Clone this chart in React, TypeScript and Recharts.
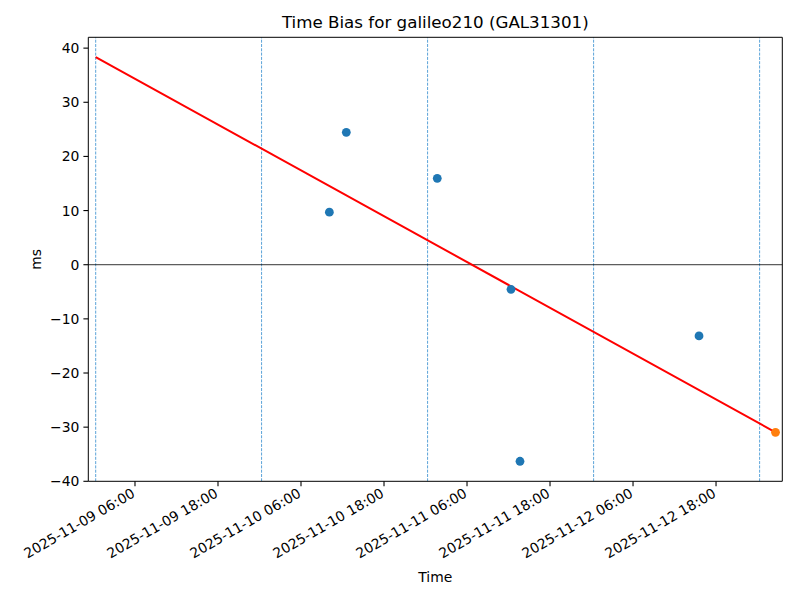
import {
  ComposedChart,
  Line,
  Scatter,
  XAxis,
  YAxis,
  ReferenceLine,
} from "recharts";

// time values are hours since 2025-11-09 00:00
const xTicks = [6, 18, 30, 42, 54, 66, 78, 90];
const xTickLabels = [
  "2025-11-09 06:00",
  "2025-11-09 18:00",
  "2025-11-10 06:00",
  "2025-11-10 18:00",
  "2025-11-11 06:00",
  "2025-11-11 18:00",
  "2025-11-12 06:00",
  "2025-11-12 18:00",
];
const yTicks = [-40, -30, -20, -10, 0, 10, 20, 30, 40];

const biasTimes = [34.1, 36.55, 49.7, 60.36, 61.66, 87.54];
const biasValues = [9.7, 24.45, 15.95, -4.55, -36.3, -13.15];
const latestTime = [98.6];
const latestValue = [-30.95];
const fitTimes = [0.32, 98.6];
const fitValues = [38.35, -30.95];
const dayMarks = [0.32, 24.3, 48.3, 72.3, 96.3];

const X_DOMAIN = [-0.75, 99.58];
const Y_DOMAIN = [-40, 42];

const bias = biasTimes.map((t, i) => ({ t, v: biasValues[i] }));
const latest = latestTime.map((t, i) => ({ t, v: latestValue[i] }));
const fit = fitTimes.map((t, i) => ({ t, v: fitValues[i] }));
const dayLines = dayMarks.map((t) => [
  { t, v: Y_DOMAIN[0] },
  { t, v: Y_DOMAIN[1] },
]);

const FONT = "DejaVu Sans, sans-serif";

const XTick = (props: any) => {
  const { x, y, payload } = props;
  const i = xTicks.indexOf(payload.value);
  const ax = x + 1;
  const ay = y + 8;
  return (
    <text
      x={ax}
      y={ay}
      textAnchor="end"
      transform={`rotate(-30 ${ax} ${ay})`}
      fontSize={13.9}
      fontFamily={FONT}
      fill="#000"
    >
      {xTickLabels[i]}
    </text>
  );
};

const YTick = (props: any) => {
  const { x, y, payload } = props;
  const v = payload.value;
  const label = v < 0 ? `\u2212${Math.abs(v)}` : `${v}`;
  return (
    <text x={x} y={y} dy="0.36em" textAnchor="end" fontSize={13.9} fontFamily={FONT} fill="#000">
      {label}
    </text>
  );
};

const dot = (color: string) => (p: any) =>
  <circle cx={p.cx} cy={p.cy} r={4.4} fill={color} />;

export default function App() {
  return (
    <div style={{ position: "absolute", left: 0, top: 0, width: 800, height: 600, background: "#fff" }}>
      <ComposedChart
        width={800}
        height={600}
        margin={{ top: 37.3, right: 17.7, bottom: 0, left: 0 }}
      >
        <XAxis
          type="number"
          dataKey="t"
          domain={X_DOMAIN}
          allowDataOverflow
          ticks={xTicks}
          interval={0}
          height={118.7}
          tick={<XTick />}
          tickSize={4.9}
          tickMargin={2}
          axisLine={{ stroke: "#000", strokeWidth: 1 }}
          tickLine={{ stroke: "#000", strokeWidth: 1.1 }}
        />
        <YAxis
          type="number"
          dataKey="v"
          domain={Y_DOMAIN}
          allowDataOverflow
          ticks={yTicks}
          interval={0}
          width={88.3}
          tick={<YTick />}
          tickSize={4.9}
          tickMargin={4}
          axisLine={{ stroke: "#000", strokeWidth: 1 }}
          tickLine={{ stroke: "#000", strokeWidth: 1.1 }}
        />
        {dayLines.map((seg, i) => (
          <Line
            key={i}
            data={seg}
            dataKey="v"
            stroke="#4a98d4"
            strokeWidth={0.9}
            strokeDasharray="3 1.3"
            dot={false}
            activeDot={false}
            isAnimationActive={false}
          />
        ))}
        <ReferenceLine y={0} stroke="#000" strokeWidth={0.8} />
        <ReferenceLine y={Y_DOMAIN[1]} stroke="#000" strokeWidth={1} />
        <ReferenceLine x={X_DOMAIN[1]} stroke="#000" strokeWidth={1} />
        <Line
          data={fit}
          dataKey="v"
          stroke="#ff0000"
          strokeWidth={2}
          dot={false}
          activeDot={false}
          isAnimationActive={false}
        />
        <Scatter data={bias} dataKey="v" shape={dot("#1f77b4")} isAnimationActive={false} />
        <Scatter data={latest} dataKey="v" shape={dot("#ff7f0e")} isAnimationActive={false} />
      </ComposedChart>
      <svg
        width={800}
        height={600}
        style={{ position: "absolute", left: 0, top: 0, pointerEvents: "none" }}
      >
        <text x={435.3} y={28} textAnchor="middle" fontSize={16.7} fontFamily={FONT} fill="#000">
          Time Bias for galileo210 (GAL31301)
        </text>
        <text x={435.3} y={582} textAnchor="middle" fontSize={13.9} fontFamily={FONT} fill="#000">
          Time
        </text>
        <text
          x={41}
          y={259.3}
          textAnchor="middle"
          transform="rotate(-90 41 259.3)"
          fontSize={13.9}
          fontFamily={FONT}
          fill="#000"
        >
          ms
        </text>
      </svg>
    </div>
  );
}
